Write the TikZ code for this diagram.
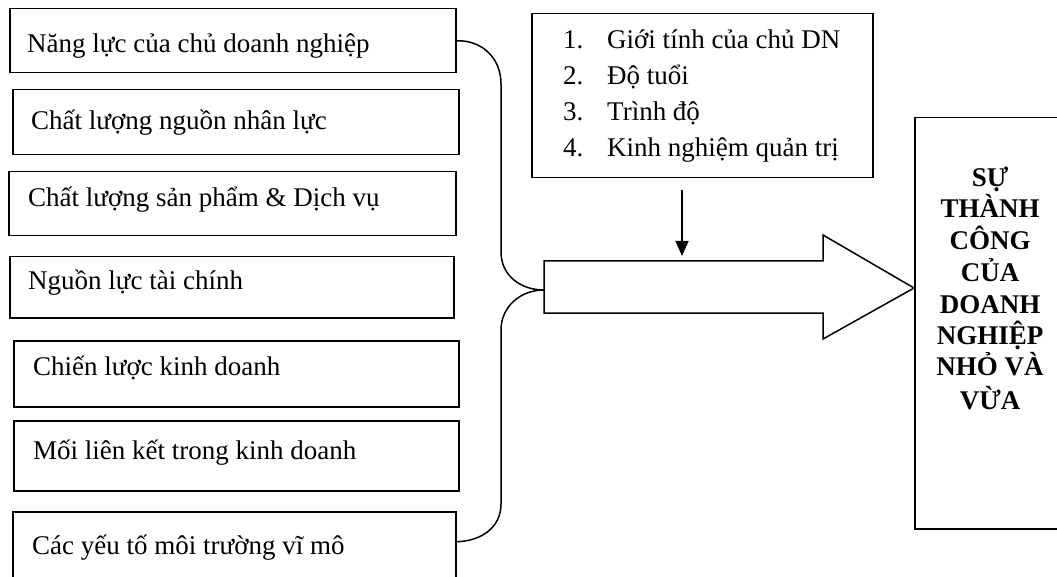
\documentclass[tikz,border=0pt]{standalone}
\usepackage{fontspec}
\setmainfont{Liberation Serif}
\usetikzlibrary{arrows.meta}
\tikzset{
  lbox/.style 2 args={draw=black, line width=1.5pt, anchor=north west, inner sep=0pt, minimum width=#1pt, minimum height=#2pt},
  txt/.style={anchor=base west, inner sep=0pt, font=\fontsize{27}{32}\selectfont},
  rtxt/.style={anchor=base, inner sep=0pt, font=\bfseries\fontsize{27}{32}\selectfont},
  conn/.style={draw=black, line width=1.5pt},
  bigarrow/.style={draw=black, line width=1.5pt, fill=white, line join=miter},
  downarrow/.style={draw=black, line width=1.5pt, -{Triangle[length=15pt,width=13pt]}}
}
\begin{document}
\begin{tikzpicture}[x=1pt,y=-1pt]
\useasboundingbox (0,0) rectangle (1057,577);
\clip (0,0) rectangle (1057,577);

% left boxes
\node[lbox={446}{64}] (b1) at (9,8) {};
\node[lbox={446}{65}] (b2) at (12,89) {};
\node[lbox={447}{64}] (b3) at (8,171) {};
\node[lbox={444}{61}] (b4) at (9,256) {};
\node[lbox={445}{66}] (b5) at (13,340) {};
\node[lbox={445}{70}] (b6) at (13,420) {};
\node[lbox={443}{72}] (b7) at (12,511) {};

\node[txt] (t1) at (27,53) {Năng lực của chủ doanh nghiệp};
\node[txt] (t2) at (31,130) {Chất lượng nguồn nhân lực};
\node[txt] (t3) at (28,207) {Chất lượng sản phẩm \& Dịch vụ};
\node[txt] (t4) at (28,290) {Nguồn lực tài chính};
\node[txt] (t5) at (33,375) {Chiến lược kinh doanh};
\node[txt] (t6) at (33,459) {Mối liên kết trong kinh doanh};
\node[txt] (t7) at (32,554) {Các yếu tố môi trường vĩ mô};

% top list box
\node[lbox={341}{164}] (tb) at (531,13) {};
\node[txt] (n1) at (563,49) {1.};
\node[txt] (n2) at (563,85) {2.};
\node[txt] (n3) at (563,121) {3.};
\node[txt] (n4) at (563,157) {4.};
\node[txt] (l1) at (607,49) {Giới tính của chủ DN};
\node[txt] (l2) at (607,85) {Độ tuổi};
\node[txt] (l3) at (607,121) {Trình độ};
\node[txt] (l4) at (607,157) {Kinh nghiệm quản trị};

% right box
\node[lbox={160}{411}] (rb) at (914,117) {};
\node[rtxt] (r1) at (990,187) {SỰ};
\node[rtxt] (r2) at (990,218) {THÀNH};
\node[rtxt] (r3) at (990,250) {CÔNG};
\node[rtxt] (r4) at (990,281) {CỦA};
\node[rtxt] (r5) at (990,313) {DOANH};
\node[rtxt] (r6) at (990,344) {NGHIỆP};
\node[rtxt] (r7) at (990,375) {NHỎ VÀ};
\node[rtxt] (r8) at (990,409) {VỪA};

% big arrow
\coordinate (j) at (544,290);
\coordinate (tip) at (rb.west |- 0,288);
\draw[bigarrow] (544,261) -- (823,261) -- (823,235) -- (tip) -- (823,339) -- (823,313) -- (544,313) -- cycle;

% brace connectors
\draw[conn] (b1.east) .. controls (482,40) and (501,58) .. (501,84) -- (501,252)
  .. controls (501,275) and (520,290) .. (j);
\draw[conn] (j) .. controls (520,290) and (501,307) .. (501,330) -- (501,504)
  .. controls (501,527) and (482,541) .. ([yshift=6pt]b7.east);

% down arrow
\coordinate (da) at (682,190);
\coordinate (db) at (682,256);
\draw[downarrow] (da) -- (db);
\end{tikzpicture}
\end{document}
